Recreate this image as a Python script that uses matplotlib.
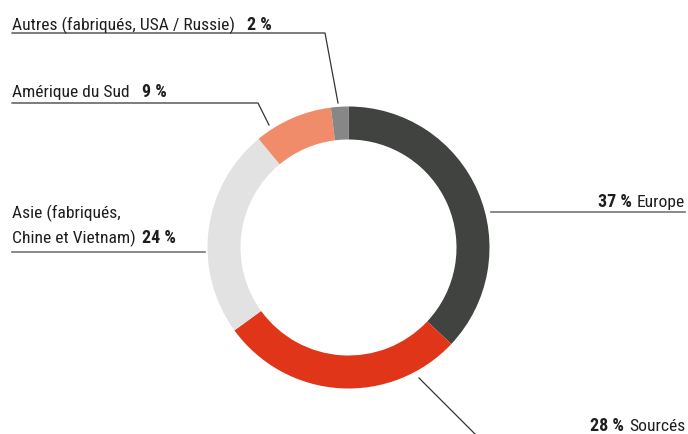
import matplotlib
matplotlib.use('Agg')
import matplotlib.pyplot as plt

# --- données ---
categories = ['Europe', 'Sourcés', 'Asie', 'Amérique du Sud', 'Autres']
shares = [37, 28, 24, 9, 2]
colors = ['#414341', '#e03518', '#e2e2e2', '#f08c6a', '#878787']

W, H = 688, 434
FONT = ['Roboto Condensed', 'Roboto', 'DejaVu Sans']
FS = 12.6
TXT = '#1e1e1e'
LINE_DARK = '#333333'
LINE_GRAY = '#777777'

fig = plt.figure(figsize=(W / 100, H / 100), dpi=100)
ax = fig.add_axes([0, 0, 1, 1])

# anneau (coordonnées en pixels, y vers le haut)
cx, cy, r = 348.5, H - 247.5, 141
ax.pie(shares, colors=colors, startangle=90, counterclock=False,
       center=(cx, cy), radius=r,
       wedgeprops=dict(width=33, linewidth=0))

ax.set_xlim(0, W)
ax.set_ylim(0, H)
ax.set_aspect('equal')
ax.axis('off')


def Y(py):
    return H - py


# traits de rappel
ax.plot([12, 325, 338], [Y(33), Y(33), Y(103)], color=LINE_DARK, lw=0.9)
ax.plot([12, 258, 269], [Y(103), Y(103), Y(125)], color=LINE_DARK, lw=0.9)
ax.plot([12, 205], [Y(252), Y(252)], color=LINE_GRAY, lw=1.2)
ax.plot([491, 685], [Y(212), Y(212)], color=LINE_GRAY, lw=1.2)
ax.plot([419, 475], [Y(378), Y(434)], color=LINE_DARK, lw=0.9)

fig.canvas.draw()
renderer = fig.canvas.get_renderer()


def label_left(x, py, normal, bold, gap=10):
    t = ax.text(x, Y(py), normal, family=FONT, fontsize=FS, color=TXT,
                ha='left', va='baseline')
    bb = t.get_window_extent(renderer)
    ax.text(bb.x1 + gap, Y(py), bold, family=FONT, fontsize=FS + 0.4,
            fontweight='bold', color=TXT, ha='left', va='baseline')


def label_right(x, py, bold, normal, gap=5):
    t = ax.text(x, Y(py), normal, family=FONT, fontsize=FS, color=TXT,
                ha='right', va='baseline')
    bb = t.get_window_extent(renderer)
    ax.text(bb.x0 - gap, Y(py), bold, family=FONT, fontsize=FS + 0.4,
            fontweight='bold', color=TXT, ha='right', va='baseline')


label_left(12, 30, 'Autres (fabriqués, USA / Russie)', f'{shares[4]} %', gap=12)
label_left(12, 97, 'Amérique du Sud', f'{shares[3]} %', gap=12)
ax.text(12, Y(218), 'Asie (fabriqués,', family=FONT, fontsize=FS,
        color=TXT, ha='left', va='baseline')
label_left(12, 243, 'Chine et Vietnam)', f'{shares[2]} %', gap=6)
label_right(685, 207, f'{shares[0]} %', 'Europe', gap=5)
label_right(685, 431, f'{shares[1]} %', 'Sourcés', gap=5)

fig.savefig('out.png', dpi=100)
